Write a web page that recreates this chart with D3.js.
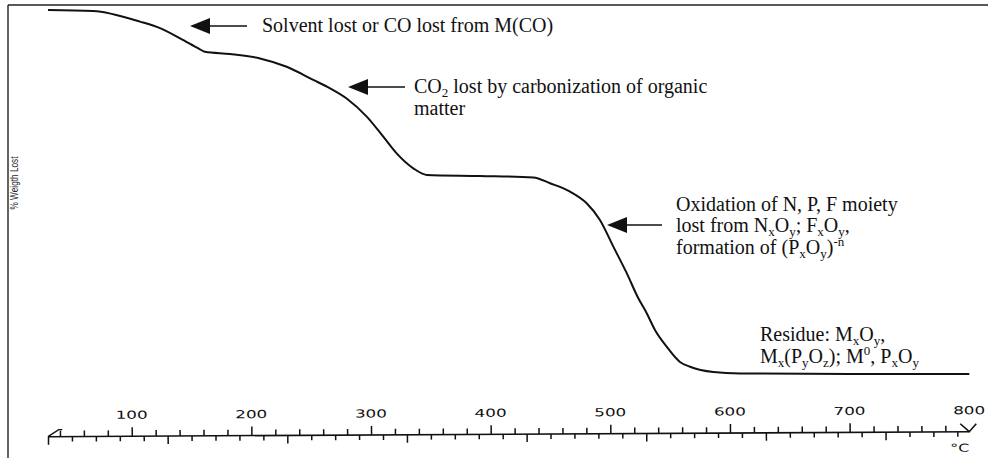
<!DOCTYPE html>
<html>
<head>
<meta charset="utf-8">
<script src="https://cdn.jsdelivr.net/npm/d3@7"></script>
<style>
  html, body { margin: 0; padding: 0; background: #fff; }
  svg { display: block; }
</style>
</head>
<body>
<svg id="chart" width="988" height="458"></svg>
<script>
// Thermogravimetric trace: furnace temperature (°C) and normalised weight lost (%)
const temperature = [30, 67.6, 106.9, 123.6, 140.4, 157.0, 161.2, 182.1, 207.2, 229.5, 251.7,
  265.7, 279.6, 296.4, 310.2, 321.4, 335.3, 346.5, 391.0, 435.6, 449.6,
  466.3, 480.2, 491.3, 502.5, 513.7, 523.4, 530.4, 537.3, 547.1, 558.2,
  566.6, 586.1, 608.4, 700, 800];
const weightLost = [0, 0.3, 3.2, 5.0, 7.8, 10.8, 11.5, 12.1, 13.3, 15.6, 19.2,
  21.5, 24.3, 29.3, 34.8, 39.4, 43.5, 45.3, 45.6, 46.0, 47.6,
  49.9, 53.1, 57.7, 65.0, 72.3, 79.2, 83.3, 87.9, 92.5, 96.7,
  98.0, 99.45, 99.85, 100, 100];

// Temperature scale ticks
const axisLabels = [100, 200, 300, 400, 500, 600, 700, 800];
const upperTicks = d3.range(40, 800, 20);   // 40, 60, ... 780
const lowerTicks = d3.range(30, 800, 20);   // 30, 50, ... 790
const axisStart = 30, axisEnd = 800;

// Annotation texts: each line is a list of [text, style] runs
const notes = [
  { lines: [[["Solvent lost or CO lost from M(CO)", ""]]] },
  { lines: [
      [["CO", ""], ["2", "sub"], [" lost by carbonization of organic", ""]],
      [["matter", ""]]
  ] },
  { lines: [
      [["Oxidation of N, P, F moiety", ""]],
      [["lost from N", ""], ["x", "sub"], ["O", ""], ["y", "sub"], ["; F", ""], ["x", "sub"], ["O", ""], ["y", "sub"], [",", ""]],
      [["formation of (P", ""], ["x", "sub"], ["O", ""], ["y", "sub"], [")", ""], ["-n", "sup"]]
  ] },
  { lines: [
      [["Residue: M", ""], ["x", "sub"], ["O", ""], ["y", "sub"], [",", ""]],
      [["M", ""], ["x", "sub"], ["(P", ""], ["y", "sub"], ["O", ""], ["z", "sub"], ["); M", ""], ["0", "sup"], [", P", ""], ["x", "sub"], ["O", ""], ["y", "sub"]]
  ] }
];

// Placement of the annotations (pixels)
const noteLayout = [
  { arrow: { tip: 190, y: 26, end: 247 }, x: 262, baselines: [32] },
  { arrow: { tip: 348, y: 87, end: 405 }, x: 414, baselines: [93, 115] },
  { arrow: { tip: 607, y: 225, end: 662 }, x: 676, baselines: [211, 232, 254] },
  { arrow: null, x: 760, baselines: [341, 363] }
];

const ink = "#111";
const svg = d3.select("#chart");

const x = d3.scaleLinear().domain([0, 800]).range([12.1, 969.3]);
const y = d3.scaleLinear().domain([0, 100]).range([10, 374]);

// Frame: top and left rules
svg.append("line").attr("x1", 8).attr("x2", 988).attr("y1", 5).attr("y2", 5)
  .attr("stroke", "#222").attr("stroke-width", 1.6);
svg.append("line").attr("x1", 8).attr("x2", 8).attr("y1", 5).attr("y2", 458)
  .attr("stroke", "#222").attr("stroke-width", 1.4);

// Y-axis title
svg.append("text")
  .attr("transform", "translate(18,183) rotate(-90)")
  .attr("text-anchor", "middle")
  .attr("font-family", "Liberation Sans, Arial, sans-serif")
  .attr("font-size", 10)
  .attr("textLength", 53)
  .attr("lengthAdjust", "spacingAndGlyphs")
  .attr("fill", "#222")
  .text("% Weigth Lost");

// TGA curve
const curve = d3.line()
  .x(i => x(temperature[i]))
  .y(i => y(weightLost[i]))
  .curve(d3.curveMonotoneX);
svg.append("path")
  .datum(d3.range(temperature.length))
  .attr("d", curve)
  .attr("fill", "none")
  .attr("stroke", ink)
  .attr("stroke-width", 2)
  .attr("stroke-linejoin", "round");

// Temperature axis (slightly tilted ruler with alternating ticks)
const axisY = 436.7;
const ax = svg.append("g")
  .attr("transform", `translate(0,${axisY}) rotate(-0.31,${x(axisStart)},0)`);

ax.append("line")
  .attr("x1", x(axisStart)).attr("x2", x(axisEnd))
  .attr("y1", 0).attr("y2", 0)
  .attr("stroke", ink).attr("stroke-width", 1.6);

const upAxis = d3.axisTop(x).tickValues(upperTicks).tickFormat("").tickSizeOuter(0);
ax.append("g").call(upAxis).call(g => {
  g.select(".domain").remove();
  g.selectAll(".tick line")
    .attr("y2", d => d % 100 === 0 ? -9 : -6)
    .attr("stroke", ink).attr("stroke-width", 1.5);
});

const downAxis = d3.axisBottom(x).tickValues(lowerTicks).tickFormat("").tickSizeOuter(0);
ax.append("g").call(downAxis).call(g => {
  g.select(".domain").remove();
  g.selectAll(".tick line")
    .attr("y2", d => d % 100 === 30 ? 8 : 5)
    .attr("stroke", ink).attr("stroke-width", 1.5);
});

// break mark at the start of the ruler
ax.append("path")
  .attr("d", `M${x(axisStart)},0 L${x(39)},-7 L${x(42)},-7`)
  .attr("fill", "none").attr("stroke", ink).attr("stroke-width", 1.4);

// end mark at 800 °C
ax.append("path")
  .attr("d", `M${x(axisEnd) - 9},-8 L${x(axisEnd)},0 L${x(axisEnd) + 7},-8`)
  .attr("fill", "none").attr("stroke", ink).attr("stroke-width", 1.6);

ax.selectAll("text.lbl")
  .data(axisLabels)
  .join("text")
  .attr("class", "lbl")
  .attr("x", d => x(d))
  .attr("y", -17.5)
  .attr("text-anchor", "middle")
  .attr("font-family", "DejaVu Sans, sans-serif")
  .attr("font-size", 11)
  .attr("textLength", 32)
  .attr("lengthAdjust", "spacingAndGlyphs")
  .attr("fill", ink)
  .text(d => d);

ax.append("text")
  .attr("x", x(792)).attr("y", 20)
  .attr("text-anchor", "middle")
  .attr("font-family", "DejaVu Sans, sans-serif")
  .attr("font-size", 11)
  .attr("textLength", 19)
  .attr("lengthAdjust", "spacingAndGlyphs")
  .attr("fill", ink)
  .text("°C");

// Annotations with arrows
notes.forEach((note, k) => {
  const lay = noteLayout[k];
  if (lay.arrow) {
    const a = lay.arrow;
    svg.append("path")
      .attr("d", `M${a.tip},${a.y} L${a.tip + 20},${a.y - 8} L${a.tip + 20},${a.y + 8} Z`)
      .attr("fill", ink);
    svg.append("line")
      .attr("x1", a.tip + 19).attr("x2", a.end)
      .attr("y1", a.y).attr("y2", a.y)
      .attr("stroke", ink).attr("stroke-width", 1.4);
  }
  note.lines.forEach((runs, li) => {
    const t = svg.append("text")
      .attr("x", lay.x).attr("y", lay.baselines[li])
      .attr("font-family", "Liberation Serif, Times New Roman, serif")
      .attr("font-size", 20)
      .attr("fill", ink);
    let shift = 0;
    runs.forEach(([str, style]) => {
      const target = style === "sub" ? 4 : style === "sup" ? -8 : 0;
      t.append("tspan")
        .attr("dy", target - shift)
        .attr("font-size", style ? 13 : 20)
        .text(str);
      shift = target;
    });
  });
});
</script>
</body>
</html>
